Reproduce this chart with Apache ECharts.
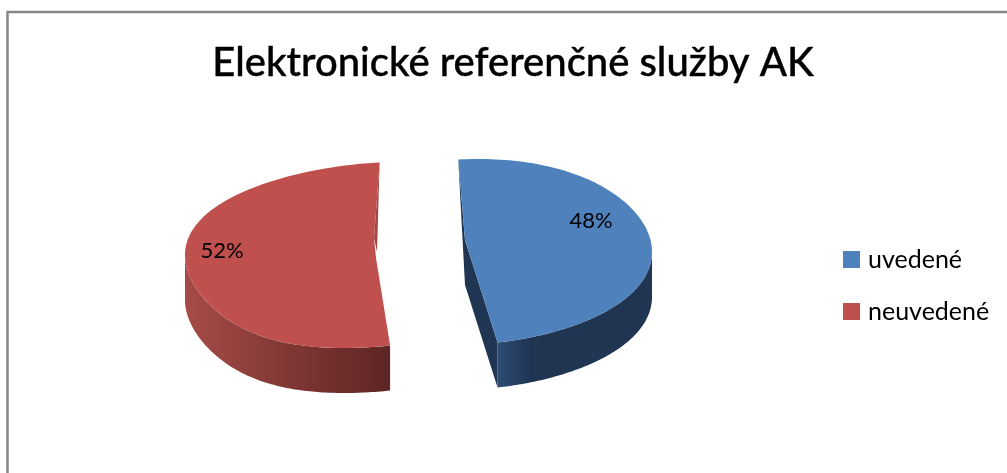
<!DOCTYPE html>
<html><head><meta charset="utf-8">
<style>html,body{margin:0;padding:0;background:#fff}#c{width:1007px;height:473px}</style>
<script src="https://cdn.jsdelivr.net/npm/echarts@6/dist/echarts.min.js"></script>
</head><body><div id="c"></div>
<script>
const chartTitle = 'Elektronické referenčné služby AK';
const categories = ['uvedené', 'neuvedené'];
const values = [48, 52];
const colors = ['#4F81BD', '#C0504D'];
const total = values.reduce((a, b) => a + b, 0);
const startDeg = -6;
const geom = [
  {cx: 465, cy: 252, rx: 187, ry: 93, skewTop: -13, skewBottom: -11, depth: 45, kink: [0, -12], left: '#2E4C74', right: '#1F3552', stop: .22, wall: '#1F3552'},
  {cx: 376, cy: 255, rx: 191, ry: 93, skewTop: -24, skewBottom: -32, depth: 45, kink: [-2, -17], left: '#A64B47', right: '#5C2523', stop: 1, wall: '#A04845'}
];
const labelPos = [[591, 221], [222, 251]];
function pt(g, deg, dy) {
  const a = deg * Math.PI / 180, ux = Math.sin(a), uy = -Math.cos(a);
  const skew = uy < 0 ? g.skewTop : g.skewBottom;
  return [g.cx + g.rx * ux + skew * uy * uy * uy, g.cy + g.ry * uy + (dy || 0)];
}
function arc(g, a0, a1, dy) {
  const pts = [], n = 120;
  for (let i = 0; i <= n; i++) pts.push(pt(g, a0 + (a1 - a0) * i / n, dy));
  return pts;
}
function angles(i) {
  let s = startDeg;
  for (let k = 0; k < i; k++) s += values[k] / total * 360;
  return [s, s + values[i] / total * 360];
}
function renderer(i) {
  return function () {
    const g = geom[i], [a0, a1] = angles(i), d = g.depth;
    const c = i === 0 ? [g.cx + g.kink[0], g.cy + g.kink[1]] : [g.cx, g.cy + 3];
    const k = [g.cx + g.kink[0], g.cy + g.kink[1]];
    const rim = arc(g, a0, a1);
    const top = i === 0 ? [c].concat(rim) : [c].concat(rim, [k]);
    const children = [];
    let frontA0, frontA1;
    if (i === 0) { frontA0 = 90; frontA1 = a1; } else { frontA0 = a0; frontA1 = 270; }
    const front = arc(g, frontA0, frontA1);
    const frontLow = arc(g, frontA0, frontA1, d).reverse();
    const fill = i === 0
      ? {type: 'linear', x: 0, y: 0, x2: 1, y2: 0, colorStops: [{offset: 0, color: g.left}, {offset: g.stop, color: g.right}, {offset: 1, color: g.right}]}
      : {type: 'linear', x: 0, y: 0, x2: 1, y2: 0, colorStops: [{offset: 0, color: g.left}, {offset: 1, color: g.right}]};
    const pa = pt(g, a0), pb = pt(g, a1);
    const wall = i === 0
      ? [pa, [c[0], c[1] + d], [pb[0], pb[1] + d], pb, c]
      : [pb, [c[0] + 1, c[1] - 6], k];
    children.push({type: 'polygon', shape: {points: wall}, style: {fill: g.wall}});
    children.push({type: 'polygon', shape: {points: front.concat(frontLow)}, style: {fill}});
    children.push({type: 'polygon', shape: {points: top}, style: {fill: colors[i]}});
    children.push({type: 'text', style: {x: labelPos[i][0], y: labelPos[i][1], text: Math.round(values[i] / total * 100) + '%',
      font: '22px Lato', fill: '#000', align: 'center', verticalAlign: 'middle'}});
    return {type: 'group', children};
  };
}
const chart = echarts.init(document.getElementById('c'), null, {renderer: 'canvas'});
chart.setOption({
  animation: false,
  backgroundColor: '#fff',
  title: {text: chartTitle, left: 508, top: 38, textAlign: 'center',
    textStyle: {fontFamily: 'Lato', fontSize: 40, fontWeight: 500, color: '#000', textBorderColor: '#000', textBorderWidth: 0.4}},
  legend: {orient: 'vertical', left: 838, top: 242, itemWidth: 17, itemHeight: 17, itemGap: 27, icon: 'rect',
    data: categories, textStyle: {fontFamily: 'Lato', fontSize: 25, color: '#000', padding: [0,0,0,3]}},
  graphic: [{type: 'polyline', shape: {points: [[7.5, 473], [7.5, 12], [1007, 12]]}, style: {stroke: '#868686', lineWidth: 2.5, fill: 'none'}}],
  series: categories.map((name, i) => ({
    type: 'custom', name, coordinateSystem: 'none', data: [values[i]],
    itemStyle: {color: colors[i]}, renderItem: renderer(i), silent: true
  }))
});
</script></body></html>
